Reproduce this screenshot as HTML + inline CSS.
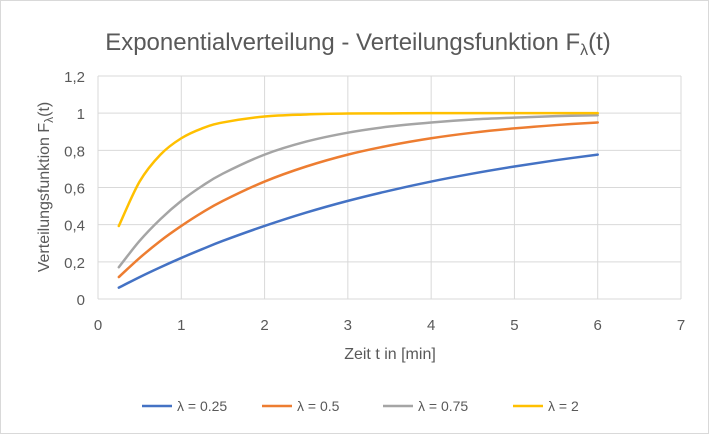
<!DOCTYPE html>
<html><head><meta charset="utf-8"><style>
body{margin:0;background:#fff;font-family:"Liberation Sans",sans-serif}
#c{position:relative;width:709px;height:434px;box-sizing:border-box;border:1px solid #d9d9d9;background:#fff}
text{font-family:"Liberation Sans",sans-serif;fill:#595959}
</style></head><body>
<div id="c">
<svg id="s" width="709" height="434"></svg>
</div>
<script>
const tValues=[0.25,0.5,0.75,1,1.25,1.5,2,2.5,3,3.5,4,4.5,5,5.5,6];
const seriesNames=["λ = 0.25","λ = 0.5","λ = 0.75","λ = 2"];
const s025=[0.061,0.118,0.171,0.221,0.268,0.313,0.393,0.465,0.528,0.583,0.632,0.675,0.713,0.747,0.777];
const s05=[0.118,0.221,0.313,0.393,0.465,0.528,0.632,0.713,0.777,0.826,0.865,0.895,0.918,0.936,0.950];
const s075=[0.171,0.313,0.430,0.528,0.608,0.675,0.777,0.847,0.895,0.928,0.950,0.966,0.976,0.984,0.989];
const s2=[0.393,0.632,0.777,0.865,0.918,0.950,0.982,0.993,0.998,0.999,1,1,1,1,1];
const xTicks=[0,1,2,3,4,5,6,7];
const yTicks=[0,0.2,0.4,0.6,0.8,1,1.2];
const yTickLabels=["0","0,2","0,4","0,6","0,8","1","1,2"];
const colors=["#4472c4","#ed7d31","#a5a5a5","#ffc000"];
const all=[s025,s05,s075,s2];
const NS="http://www.w3.org/2000/svg",svg=document.getElementById('s');
const X0=97,X1=680,Y0=298,Y1=75;
const xs=v=>X0+(v-0)/(7-0)*(X1-X0);
const ys=v=>Y0-(v-0)/(1.2-0)*(Y0-Y1);
function mk(tag,at,txt){const e=document.createElementNS(NS,tag);for(const k in at)e.setAttribute(k,at[k]);if(txt!=null)e.textContent=txt;svg.appendChild(e);return e;}
yTicks.forEach((v,i)=>{
 const g=mk('line',{x1:X0,x2:X1,y1:ys(v),y2:ys(v),stroke:'#d9d9d9','stroke-width':1});
 
 const t=mk('text',{x:X0-13,y:ys(v)+6,'text-anchor':'end','font-size':15},yTickLabels[i]);
 
});
xTicks.forEach(v=>{
 const g=mk('line',{x1:xs(v),x2:xs(v),y1:Y1,y2:Y0,stroke:'#d9d9d9','stroke-width':1});
 
 const t=mk('text',{x:xs(v),y:Y0+31,'text-anchor':'middle','font-size':15},String(v));
 
});
function path(vals){
 const p=tValues.map((t,i)=>[xs(t),ys(vals[i])]);
 let d='M'+p[0][0]+','+p[0][1];
 for(let i=0;i<p.length-1;i++){
  const a=p[i-1]||p[i],b=p[i],c=p[i+1],e=p[i+2]||c;
  const c1=[b[0]+(c[0]-a[0])/6,b[1]+(c[1]-a[1])/6],c2=[c[0]-(e[0]-b[0])/6,c[1]-(e[1]-b[1])/6];
  d+=` C${c1[0]},${c1[1]} ${c2[0]},${c2[1]} ${c[0]},${c[1]}`;
 }
 return d;
}
all.forEach((vals,k)=>{
 const l=mk('path',{d:path(vals),fill:'none',stroke:colors[k],'stroke-width':2.5,'stroke-linecap':'round'});
 
});
const tt=mk('text',{x:357,y:49,'text-anchor':'middle','font-size':24},null);
tt.innerHTML='Exponentialverteilung - Verteilungsfunktion F<tspan font-size="16" dy="5">λ</tspan><tspan dy="-5">(t)</tspan>';

const xl=mk('text',{x:389,y:358,'text-anchor':'middle','font-size':16},'Zeit t in [min]');

const yl=mk('text',{x:0,y:0,'text-anchor':'middle','font-size':16,transform:'translate(48,186) rotate(-90)'},null);
yl.innerHTML='Verteilungsfunktion F<tspan font-size="12" dy="4">λ</tspan><tspan dy="-4">(t)</tspan>';

const lx=[141,261,382,512];
seriesNames.forEach((n,k)=>{
 const l=mk('line',{x1:lx[k],x2:lx[k]+30,y1:405,y2:405,stroke:colors[k],'stroke-width':2.5});
 
 const t=mk('text',{x:lx[k]+35,y:410,'font-size':14},n);
 
});
</script>
</body></html>
